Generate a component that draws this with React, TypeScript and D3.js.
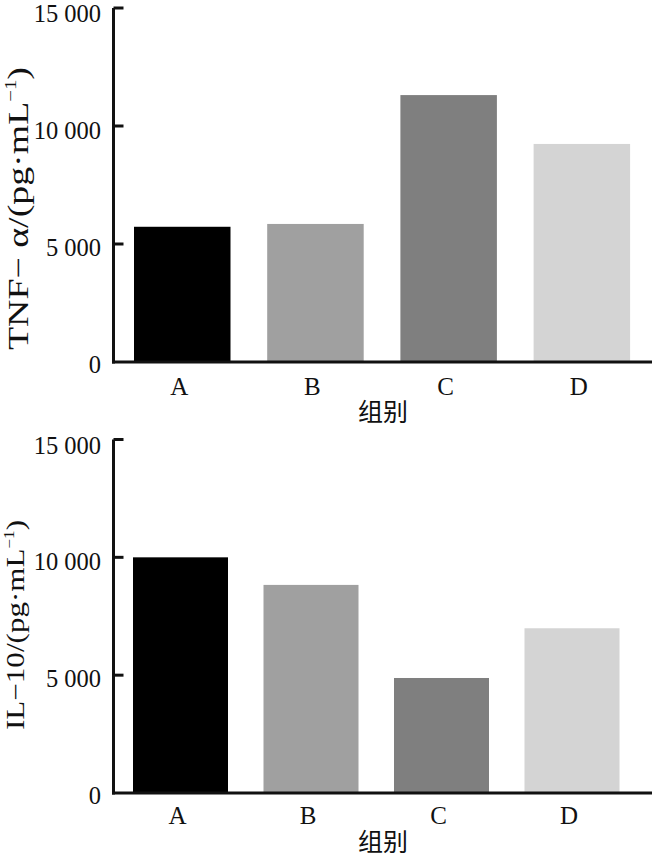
import React from "react";
import * as d3 from "d3";

const groups = ["A", "B", "C", "D"];
const tnfValues = [5730, 5850, 11310, 9240];
const il10Values = [10000, 8830, 4880, 6990];
const yTicks = [0, 5000, 10000, 15000];
const barColors = ["#000000", "#a0a0a0", "#7f7f7f", "#d4d4d4"];
const xTitle = "组别";

const W = 654;
const H = 858;
const SERIF = "'Liberation Serif', 'Times New Roman', serif";
const CJK = "'Noto Sans CJK SC', sans-serif";

function fmt(v: number) {
  if (v === 0) return "0";
  const s = String(v);
  return s.slice(0, s.length - 3) + " " + s.slice(s.length - 3);
}

type PanelProps = {
  values: number[];
  yTop: number;
  yBottom: number;
  barStart: number;
  step: number;
  barW: number;
  labelOff: number;
  titleY: number;
  titleX: number;
  titleSize: number;
  titleLen: number;
  xTitleY: number;
  titleMain: string;
};

function Panel(p: PanelProps) {
  const axisX = 113.5;
  const axisEnd = 652;
  const y = d3.scaleLinear().domain([0, 15000]).range([p.yBottom, p.yTop]);
  const pi = 1 - p.barW / p.step;
  const po = (p.barStart - axisX) / p.step;
  const r1 = axisX + p.step * (groups.length - pi + 2 * po);
  const x = d3
    .scaleBand<string>()
    .domain(groups)
    .range([axisX, r1])
    .paddingInner(pi)
    .paddingOuter(po);
  return (
    <g>
      {groups.map((g, i) => (
        <rect
          key={g}
          x={x(g)}
          y={y(p.values[i])}
          width={x.bandwidth()}
          height={y(0) - y(p.values[i])}
          fill={barColors[i]}
        />
      ))}
      <line x1={axisX} x2={axisX} y1={y(15000)} y2={y(0) + 1.5} stroke="#111" strokeWidth={3} />
      <line x1={axisX - 1.5} x2={axisEnd} y1={y(0)} y2={y(0)} stroke="#111" strokeWidth={3} />
      {yTicks.map((t, i) => (
        <g key={t}>
          {t > 0 && (
            <line x1={axisX} x2={axisX + 10} y1={y(t)} y2={y(t)} stroke="#111" strokeWidth={3} />
          )}
          <text
            x={101}
            y={y(t) + 11 + i}
            textAnchor="end"
            fontFamily={SERIF}
            fontSize={24.5}
            fill="#111"
          >
            {fmt(t)}
          </text>
        </g>
      ))}
      {groups.map((g) => (
        <text
          key={g}
          x={(x(g) as number) + x.bandwidth() / 2 - 3}
          y={y(0) + p.labelOff}
          textAnchor="middle"
          fontFamily={SERIF}
          fontSize={25}
          fill="#111"
        >
          {g}
        </text>
      ))}
      <text
        x={383}
        y={p.xTitleY}
        textAnchor="middle"
        fontFamily={CJK}
        fontSize={25}
        fill="#111"
      >
        {xTitle}
      </text>
      <text
        transform={`translate(${p.titleX},${p.titleY}) rotate(-90)`}
        textAnchor="middle"
        fontFamily={SERIF}
        fontSize={p.titleSize}
        fill="#111"
        textLength={p.titleLen}
        lengthAdjust="spacingAndGlyphs"
      >
        {p.titleMain}
        <tspan>(pg·mL</tspan>
        <tspan fontSize={p.titleSize * 0.55} dy={-p.titleSize * 0.42}>−1</tspan>
        <tspan dy={p.titleSize * 0.42}>)</tspan>
      </text>
    </g>
  );
}

export default function App() {
  return (
    <svg
      width={W}
      height={H}
      style={{ position: "absolute", left: 0, top: 0, background: "#fff" }}
    >
      <rect width={W} height={H} fill="#fff" />
      <Panel
        values={tnfValues}
        yTop={8}
        yBottom={362}
        barStart={134}
        step={133.2}
        barW={96.5}
        labelOff={33}
        titleY={208.5}
        titleX={28}
        titleSize={29}
        titleLen={283}
        xTitleY={421}
        titleMain="TNF− α/"
      />
      <Panel
        values={il10Values}
        yTop={439.5}
        yBottom={793}
        barStart={133}
        step={130.5}
        barW={95}
        labelOff={31}
        titleY={625}
        titleX={24}
        titleSize={25}
        titleLen={210}
        xTitleY={851}
        titleMain="IL−10/"
      />
    </svg>
  );
}
